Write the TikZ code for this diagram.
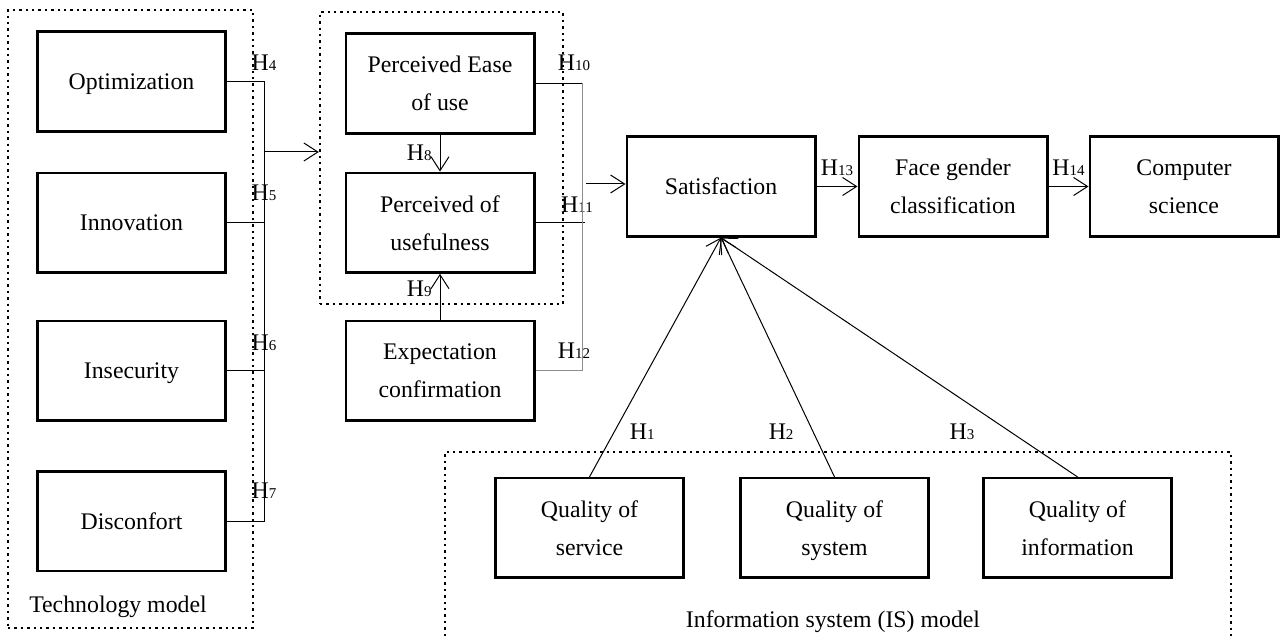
\documentclass[tikz,border=0pt]{standalone}
\usepackage{fontspec}
\setmainfont{Liberation Serif}
\usetikzlibrary{arrows.meta,positioning,fit}

\newcommand{\hyp}[1]{H{\fontsize{7.5}{8}\selectfont #1}}

\begin{document}
\begin{tikzpicture}[
  x=0.5pt, y=-0.5pt,
  font=\fontsize{11.9}{19}\selectfont,
  box/.style={draw, line width=1.3pt, align=center, minimum width=94.2pt, minimum height=49.8pt, inner sep=2pt, text depth=0pt},
  frame/.style={draw, line width=1.2pt, dotted, inner sep=0pt},
  link/.style={line width=0.5pt},
  arrow/.style={link, -{Straight Barb[length=7pt, width=9pt]}},
  hlab/.style={font=\fontsize{11.9}{12}\selectfont, inner xsep=2pt, inner ysep=5pt}
]
\useasboundingbox (0,0) rectangle (1282,636);

\node[box] (opt) at (131.5,81.5) {Optimization};
\node[box, below=19.5pt of opt] (innov) {Innovation};
\node[box, below=23pt of innov] (insec) {Insecurity};
\node[box, below=24pt of insec] (discf) {Disconfort};

\node[box] (ease) at (440,83.5) {Perceived Ease\\of use};
\node[box, below=18.5pt of ease] (useful) {Perceived of\\usefulness};
\node[box, below=23pt of useful] (expect) {Expectation\\confirmation};

\node[box] (sat) at (721,186.5) {Satisfaction};
\node[box, right=20.5pt of sat] (face) {Face gender\\classification};
\node[box, right=20pt of face] (comp) {Computer\\science};

\node[box] (service) at (589.5,528) {Quality of\\service};
\node[box, right=27pt of service] (system) {Quality of\\system};
\node[box, right=26pt of system] (info) {Quality of\\information};

\coordinate (tf1) at (8,10);
\coordinate (tf2) at (253,628);
\node[frame, fit=(tf1)(tf2)] (techframe) {};
\node (techlbl) at (118,607) {Technology model};
\coordinate (mf1) at (320,12);
\coordinate (mf2) at (563,304);
\node[frame, fit=(mf1)(mf2)] (midframe) {};
\draw[frame] (445,636) -- (445,452) -- (1231,452) -- (1231,636);
\node (islbl) at (833,622) {Information system (IS) model};

\coordinate (techbus) at (264,152);
\draw[link] (opt.east) -- node[hlab, above, pos=1] {\hyp{4}} (opt.east -| techbus) -- (discf.east -| techbus) -- node[hlab, above, pos=0, yshift=6pt] {\hyp{7}} (discf.east);
\draw[link] (innov.east) -- node[hlab, above, pos=1, yshift=6pt] {\hyp{5}} (innov.east -| techbus);
\draw[link] (insec.east) -- node[hlab, above, pos=1, yshift=5pt] {\hyp{6}} (insec.east -| techbus);
\draw[arrow] (techbus) -- (techbus -| midframe.west);

\draw[arrow] (ease.south) -- node[hlab, left, xshift=-2pt] {\hyp{8}} (useful.north);
\draw[arrow] (expect.north) -- node[hlab, left, xshift=-2pt, yshift=4pt] {\hyp{9}} (useful.south);

\coordinate (midbus) at (582,184);
\draw[link] (ease.east) -- node[hlab, above, pos=1, xshift=-4pt, yshift=1pt] {\hyp{10}} (ease.east -| midbus);
\draw[link] (useful.east) -- node[hlab, above, pos=1, xshift=-4pt] {\hyp{11}} ([xshift=1.5pt]useful.east -| midbus);
\draw[link, black!45] (ease.east -| midbus) -- (expect.east -| midbus) -- node[hlab, above, pos=0, xshift=-4pt, yshift=1pt, black] {\hyp{12}} (expect.east);
\draw[arrow] ([xshift=2pt]midbus) -- (midbus -| sat.west);

\draw[arrow] (sat) -- node[hlab, above] {\hyp{13}} (face);
\draw[arrow] (face) -- node[hlab, above] {\hyp{14}} (comp);

\draw[arrow] (service.north) -- node[hlab, pos=0.19, right, xshift=5.5pt] {\hyp{1}} (sat.south);
\draw[arrow] (system.north) -- node[hlab, pos=0.19, left, xshift=-7.5pt] {\hyp{2}} (sat.south);
\draw[arrow] (info.north) -- node[hlab, pos=0.19, left, xshift=-15.5pt] {\hyp{3}} (sat.south);
\end{tikzpicture}
\end{document}
